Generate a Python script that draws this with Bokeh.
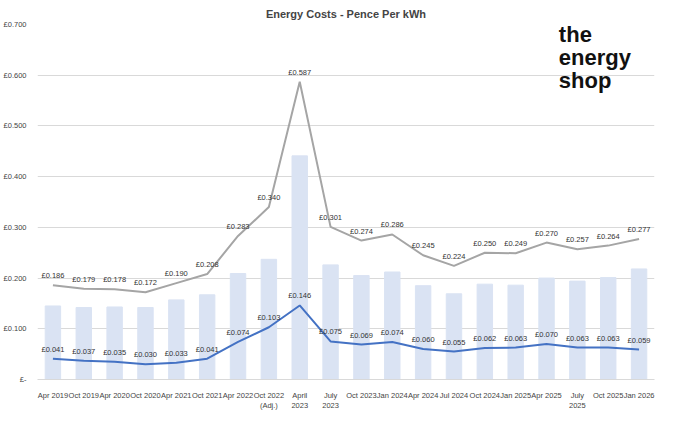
from bokeh.plotting import figure
from bokeh.models import ColumnDataSource, Legend, CustomJSTickFormatter, Range1d, Label
from bokeh.core.properties import value
from bokeh.embed import file_html
from bokeh.resources import INLINE

cats = ["Apr 2019","Oct 2019","Apr 2020","Oct 2020","Apr 2021","Oct 2021","Apr 2022","Oct 2022\n(Adj.)","April\n2023","July\n2023","Oct 2023","Jan 2024","Apr 2024","Jul 2024","Oct 2024","Jan 2025","Apr 2025","July\n2025","Oct 2025","Jan 2026"]
elec = [0.186,0.179,0.178,0.172,0.190,0.208,0.283,0.340,0.587,0.301,0.274,0.286,0.245,0.224,0.250,0.249,0.270,0.257,0.264,0.277]
gas = [0.041,0.037,0.035,0.030,0.033,0.041,0.074,0.103,0.146,0.075,0.069,0.074,0.060,0.055,0.062,0.063,0.070,0.063,0.063,0.059]
var = [round(e-g,3) for e,g in zip(elec,gas)]

src = ColumnDataSource(dict(x=cats, elec=elec, gas=gas, var=var,
    el=["£%.3f" % v for v in elec], gl=["£%.3f" % v for v in gas]))

p = figure(x_range=cats, y_range=Range1d(0,0.7), width=664, height=427, output_backend="svg",
           toolbar_location=None, title="Energy Costs - Pence Per kWh",
           min_border_right=10, min_border_bottom=48, min_border_top=10)
p.title.align="center"; p.title.text_font="Liberation Sans"; p.title.text_font_size="11px"; p.title.text_color="#444444"
p.outline_line_color=None
p.xgrid.grid_line_color=None
p.ygrid.grid_line_color="#d9d9d9"
p.yaxis.ticker=[0,0.1,0.2,0.3,0.4,0.5,0.6,0.7]
p.yaxis.formatter=CustomJSTickFormatter(code="return tick==0 ? '£-' : '£'+tick.toFixed(3);")
for ax in (p.xaxis, p.yaxis):
    ax.axis_line_color=None; ax.major_tick_line_color=None; ax.minor_tick_line_color=None
    ax.major_label_text_font_size="7.5px"; ax.major_label_text_color="#444444"
p.xaxis.axis_line_color="#d9d9d9"

b = p.vbar(x="x", top="var", width=0.5, source=src, color="#dae3f3")
le = p.line(x="x", y="elec", source=src, color="#a5a5a5", line_width=2)
lg = p.line(x="x", y="gas", source=src, color="#4472c4", line_width=2)
for col, yc in (("el","elec"),("gl","gas")):
    p.text(x="x", y=yc, text=col, source=src, y_offset=-5, text_align="center", text_baseline="bottom",
           text_font_size="7.5px", text_color="#333333", text_font=value("Liberation Sans"))

leg = Legend(items=[("Elec Vs Gas Variance",[b]),("Gas Pence Per Kwh",[lg]),("Elec Pence Per Kwh",[le])],
             orientation="horizontal", location=(140, -44), label_text_font_size="8px",
             glyph_width=20, glyph_height=8, spacing=20, padding=1, margin=0, border_line_color=None,
             background_fill_alpha=0, label_height=8)
p.add_layout(leg, "center")

for t, yy in (("the",0.705),("energy",0.66),("shop",0.615)):
    p.add_layout(Label(x=16.9, y=yy, text=t, text_font_size="22px", text_font_style="bold",
                       text_font="Liberation Sans", text_color="#111111", text_baseline="top"))

open("out.html","w").write(file_html(p, INLINE))
